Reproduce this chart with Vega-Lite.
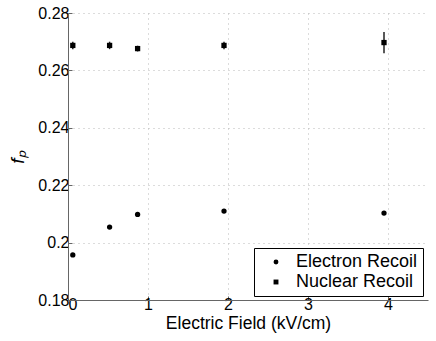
{
  "$schema": "https://vega.github.io/schema/vega-lite/v6.json",
  "width": 360,
  "height": 287,
  "autosize": {"type": "none"},
  "padding": {"left": 68, "top": 13, "right": 8, "bottom": 41},
  "background": "white",
  "config": {
    "view": {"stroke": null},
    "font": "Liberation Sans",
    "axis": {
      "domainColor": "#666666",
      "domainWidth": 1,
      "tickColor": "#666666",
      "tickSize": -4,
      "gridColor": "#b8b8b8",
      "gridDash": [1, 4],
      "gridWidth": 1,
      "labelColor": "black",
      "titleColor": "black",
      "labelFontSize": 16,
      "titleFontSize": 17.5,
      "titleFontWeight": "normal"
    }
  },
  "data": {
    "values": [
      {"field": 0.06, "fp": 0.1957, "lo": 0.1957, "hi": 0.1957, "series": "Electron Recoil"},
      {"field": 0.52, "fp": 0.2054, "lo": 0.2054, "hi": 0.2054, "series": "Electron Recoil"},
      {"field": 0.87, "fp": 0.2098, "lo": 0.2098, "hi": 0.2098, "series": "Electron Recoil"},
      {"field": 1.95, "fp": 0.2110, "lo": 0.2110, "hi": 0.2110, "series": "Electron Recoil"},
      {"field": 3.95, "fp": 0.2103, "lo": 0.2103, "hi": 0.2103, "series": "Electron Recoil"},
      {"field": 0.06, "fp": 0.2687, "lo": 0.2674, "hi": 0.2700, "series": "Nuclear Recoil"},
      {"field": 0.52, "fp": 0.2687, "lo": 0.2674, "hi": 0.2700, "series": "Nuclear Recoil"},
      {"field": 0.87, "fp": 0.2676, "lo": 0.2666, "hi": 0.2686, "series": "Nuclear Recoil"},
      {"field": 1.95, "fp": 0.2687, "lo": 0.2674, "hi": 0.2700, "series": "Nuclear Recoil"},
      {"field": 3.95, "fp": 0.2697, "lo": 0.2660, "hi": 0.2734, "series": "Nuclear Recoil"}
    ]
  },
  "encoding": {
    "x": {
      "field": "field",
      "type": "quantitative",
      "scale": {"domain": [0, 4.5], "nice": false, "zero": false},
      "axis": {
        "title": "Electric Field (kV/cm)",
        "values": [0, 1, 2, 3, 4],
        "format": "d",
        "labelPadding": 0,
        "titlePadding": 2
      }
    },
    "y": {
      "field": "fp",
      "type": "quantitative",
      "scale": {"domain": [0.18, 0.28], "nice": false, "zero": false},
      "axis": {
        "title": "fₚ",
        "titleFontStyle": "italic",
        "titleFontSize": 19,
        "values": [0.18, 0.2, 0.22, 0.24, 0.26, 0.28],
        "format": ".2~f",
        "labelPadding": 3,
        "titlePadding": 10
      }
    }
  },
  "layer": [
    {
      "mark": {"type": "rule", "color": "#222222", "strokeWidth": 1.5},
      "encoding": {
        "y": {"field": "lo", "type": "quantitative"},
        "y2": {"field": "hi"}
      }
    },
    {
      "mark": {"type": "point", "filled": true, "opacity": 1, "color": "black", "size": 28},
      "encoding": {
        "shape": {
          "field": "series",
          "type": "nominal",
          "scale": {"domain": ["Electron Recoil", "Nuclear Recoil"], "range": ["circle", "square"]},
          "legend": {
            "title": null,
            "orient": "none",
            "legendX": 186,
            "legendY": 235,
            "strokeColor": "black",
            "fillColor": "white",
            "padding": 5,
            "symbolOffset": 8,
            "labelOffset": 11,
            "labelFontSize": 18,
            "labelColor": "black",
            "symbolFillColor": "black",
            "symbolStrokeColor": "black",
            "symbolStrokeWidth": 0,
            "symbolSize": 24,
            "rowPadding": 2
          }
        }
      }
    }
  ]
}
